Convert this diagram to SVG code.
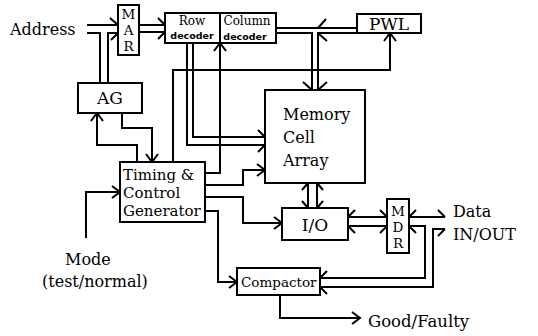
<svg xmlns="http://www.w3.org/2000/svg" width="538" height="336" viewBox="0 0 538 336">
<style>
.box{fill:#fff;stroke:#000;stroke-width:2}
.ln{fill:none;stroke:#000;stroke-width:2}
.t{font-family:"DejaVu Serif","Liberation Serif",serif;fill:#000}
.m{text-anchor:middle}
.v{font-size:13.5px}
.dec{font-family:"DejaVu Sans","Liberation Sans",sans-serif;font-weight:bold;font-size:9.5px;fill:#000}
</style>
<defs>
<marker id="arr" markerUnits="userSpaceOnUse" markerWidth="20" markerHeight="20" refX="0" refY="0" viewBox="-10 -10 20 20" orient="auto" overflow="visible">
<path d="M-8,-6 L0,0 L-8,6" fill="none" stroke="#000" stroke-width="2"/>
</marker>
</defs>
<rect width="538" height="336" fill="#fff"/>
<g id="connectors">
<path class="ln" d="M87,25 H118 M110,18 L118,25"/>
<path class="ln" d="M87,33 H100 V83"/>
<path class="ln" d="M108,83 V33 H118 M111,40 L118,33"/>
<path class="ln" d="M139,25 H165 M139,32 H165 M158,18 L165,25 M158,39 L165,32"/>
<path class="ln" d="M276,28 H357 M276,33 H312 V90 M357,33 H318 V90 M326,19 L318,28 M319,34 L327,41 M303,82 L312,90 M327,82 L318,90"/>
<path class="ln" d="M173,162 V70 H390 V33" marker-end="url(#arr)"/>
<path class="ln" d="M193,43 V137 H265 M187,43 V145 H265 M258,130 L265,137 M258,152 L265,145"/>
<path class="ln" d="M205,173 H220 V43" marker-end="url(#arr)"/>
<path class="ln" d="M205,185 H243 V170 H265" marker-end="url(#arr)"/>
<path class="ln" d="M205,197 H243 V223 H282" marker-end="url(#arr)"/>
<path class="ln" d="M205,211 H218 V282 H237" marker-end="url(#arr)"/>
<path class="ln" d="M86,238 V192 H120" marker-end="url(#arr)"/>
<path class="ln" d="M137,162 V145 H97 V113" marker-end="url(#arr)"/>
<path class="ln" d="M122,113 V128 H152 V162" marker-end="url(#arr)"/>
<path class="ln" d="M308,183 V208 M317,183 V208 M302,190 L308,183 M323,190 L317,183 M302,201 L308,208 M323,201 L317,208"/>
<path class="ln" d="M348,217 H387 M348,226 H387 M348,217 L355,210 M348,226 L355,233 M380,210 L387,217 M380,233 L387,226"/>
<path class="ln" d="M409,217 H445 M409,217 L416,210 M438,210 L445,217"/>
<path class="ln" d="M409,226 H425 V278 H320 M409,226 L416,233"/>
<path class="ln" d="M445,229 H433 V287 H320 M438,236 L445,229 M327,271 L320,278 M327,294 L320,287"/>
<path class="ln" d="M280,295 V318 H360" marker-end="url(#arr)"/>
</g>
<g id="address"><text class="t" x="10" y="35" font-size="16">Address</text></g>
<g id="mar"><rect class="box" x="118" y="5" width="21" height="50"/>
<text class="t m v" x="128.5" y="18.5">M</text>
<text class="t m v" x="128.5" y="34.5">A</text>
<text class="t m v" x="128.5" y="50.5">R</text></g>
<g id="row-decoder"><rect class="box" x="165" y="13" width="55" height="30"/>
<text class="t m" x="192" y="25" font-size="12">Row</text>
<text class="dec m" x="192" y="39">decoder</text></g>
<g id="column-decoder"><rect class="box" x="220" y="13" width="56" height="30"/>
<text class="t m" x="247" y="25" font-size="12">Column</text>
<text class="dec m" x="245" y="40">decoder</text></g>
<g id="pwl"><rect class="box" x="357" y="14" width="64" height="19"/>
<text class="t m" x="389" y="30" font-size="17">PWL</text></g>
<g id="ag"><rect class="box" x="78" y="83" width="64" height="30"/>
<text class="t m" x="110" y="104" font-size="17">AG</text></g>
<g id="memory"><rect class="box" x="265" y="90" width="100" height="93"/>
<text class="t" x="283" y="120" font-size="16">Memory</text>
<text class="t" x="283" y="143" font-size="16">Cell</text>
<text class="t" x="283" y="166" font-size="16">Array</text></g>
<g id="timing"><rect class="box" x="120" y="162" width="85" height="60"/>
<text class="t" x="123" y="180" font-size="15">Timing &amp;</text>
<text class="t" x="123" y="198" font-size="15">Control</text>
<text class="t" x="123" y="216" font-size="15">Generator</text></g>
<g id="mode"><text class="t" x="65" y="265" font-size="16">Mode</text>
<text class="t" x="42" y="287" font-size="16">(test/normal)</text></g>
<g id="io"><rect class="box" x="282" y="208" width="66" height="32"/>
<text class="t m" x="315" y="231" font-size="17">I/O</text></g>
<g id="mdr"><rect class="box" x="387" y="199" width="22" height="54"/>
<text class="t m v" x="398" y="215.5">M</text>
<text class="t m v" x="398" y="231.5">D</text>
<text class="t m v" x="398" y="247.5">R</text></g>
<g id="data"><text class="t" x="453" y="217" font-size="16">Data</text>
<text class="t" x="453" y="240" font-size="16">IN/OUT</text></g>
<g id="compactor"><rect class="box" x="237" y="268" width="83" height="27"/>
<text class="t" x="241" y="287" font-size="13.5">Compactor</text></g>
<g id="result"><text class="t" x="368" y="327" font-size="16.5">Good/Faulty</text></g>
</svg>
